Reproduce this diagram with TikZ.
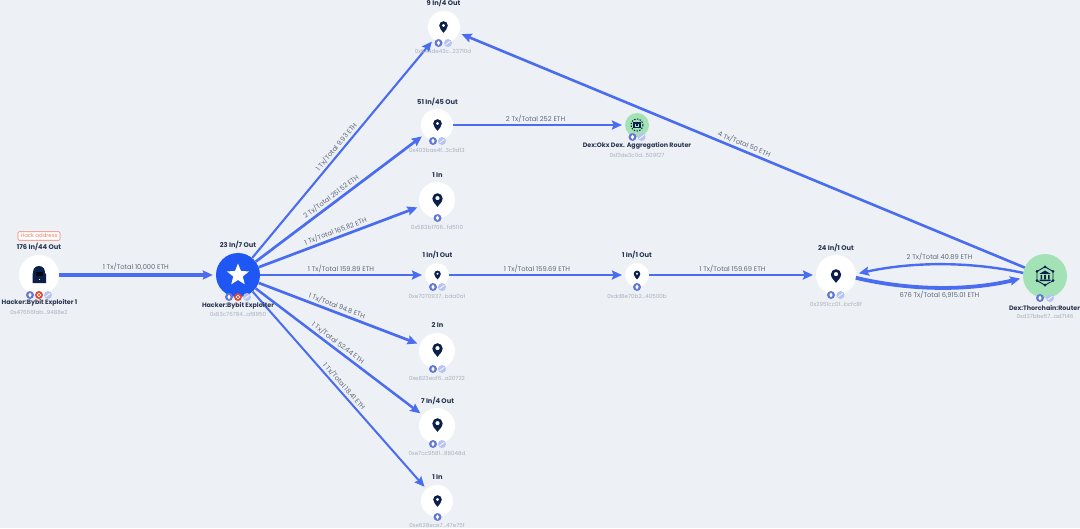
\documentclass[tikz,border=0pt]{standalone}
\usepackage{fontspec}
\setmainfont{Poppins}
\usetikzlibrary{arrows.meta,shapes.geometric}
\definecolor{bgc}{HTML}{EDF1F6}
\definecolor{edgec}{HTML}{4A6CF0}
\definecolor{navy}{HTML}{0B1F4A}
\definecolor{labc}{HTML}{2A3650}
\definecolor{addrc}{HTML}{A9B1BE}
\definecolor{edgetxt}{HTML}{5D6778}
\definecolor{greenc}{HTML}{A3E2B4}
\definecolor{mainc}{HTML}{1F57F5}
\definecolor{badge1}{HTML}{6277D6}
\definecolor{badge2}{HTML}{B7C3F2}
\definecolor{badge3}{HTML}{E2442E}
\definecolor{tagc}{HTML}{F0806A}
\tikzset{
  x=1pt,y=-1pt,
  wnode/.style={circle,fill=white,inner sep=0pt,outer sep=0pt},
  gnode/.style={circle,fill=greenc,inner sep=0pt,outer sep=0pt},
  toplab/.style={font=\fontsize{6.7}{7}\selectfont\bfseries,text=labc,inner sep=0pt},
  namelab/.style={font=\fontsize{6.35}{7}\selectfont\bfseries,text=labc,inner sep=0pt},
  addr/.style={font=\fontsize{5.6}{6}\selectfont,text=addrc,inner sep=0pt},
  elabbase/.style={font=\fontsize{6.7}{7}\selectfont,text=edgetxt},
  elab/.style={elabbase,inner sep=1.6pt,sloped,above},
  flow/.style={draw=edgec,line width=#1,-{Stealth[length=10pt,width=9pt,inset=1.5pt]},shorten >=3pt},
  flow/.default=2pt,
  ethb/.style={circle,fill=badge1,inner sep=0pt,minimum size=8pt,path picture={\fill[white] (path picture bounding box.center) ++(0,-2.5) -- ++(1.6,2.5) -- ++(-1.6,2.5) -- ++(-1.6,-2.5) -- cycle;}},
  webb/.style={circle,fill=badge2,inner sep=0pt,minimum size=8pt,path picture={\draw[white,line width=.7pt] (path picture bounding box.center) ++(-2.2,1.6) -- ++(4.4,-3.2);}},
  redb/.style={circle,fill=badge3,inner sep=0pt,minimum size=8pt,path picture={\draw[white,line width=.7pt] (path picture bounding box.center) circle (1.9);}},
  pinicon/.pic={
    \fill[navy,even odd rule] (0,8) .. controls (-2,5) and (-6,2.5) .. (-6,-2) .. controls (-6,-5.5) and (-3.2,-8) .. (0,-8) .. controls (3.2,-8) and (6,-5.5) .. (6,-2) .. controls (6,2.5) and (2,5) .. (0,8) -- cycle (2.6,-2.2) arc[start angle=0,end angle=360,radius=2.6];
  },
  hubicon/.pic={
    \draw[navy,line width=.9pt] (-8,-4.6) -- (0,-9.2) -- (8,-4.6) -- (8,4.6) -- (0,9.2) -- (-8,4.6) -- cycle;
    \foreach \a/\b in {-8/-4.6,0/-9.2,8/-4.6,8/4.6,0/9.2,-8/4.6} \fill[navy] (\a,\b) circle (1.5);
    \fill[greenc] (-5.5,-5) rectangle (5.5,6);
    \fill[navy] (0,-5.5) -- (5.5,-2.2) -- (-5.5,-2.2) -- cycle;
    \fill[navy] (-4.5,-1.2) rectangle (-3,3) (-.8,-1.2) rectangle (.8,3) (3,-1.2) rectangle (4.5,3) (-5.5,3.6) rectangle (5.5,5);
  },
  bugicon/.pic={
    \draw[navy,line width=1pt,dash pattern=on 1.4pt off 1.4pt] (0,0) circle (6);
    \fill[navy] (-4,-2.6) rectangle (4,3.2);
    \fill[greenc] (-2.4,-1) rectangle (2.4,1.6);
    \fill[navy] (-1.2,-.6) rectangle (1.2,1.2);
  }
}
\begin{document}
\begin{tikzpicture}
\fill[bgc] (0,0) rectangle (1080,528);
\useasboundingbox (0,0) rectangle (1080,528);

% nodes
\node[wnode,minimum size=40pt] (h1) at (39,275) {};
\node[circle,fill=mainc,inner sep=0pt,minimum size=44pt] (main) at (238,275) {};
\node[wnode,minimum size=32pt] (n1) at (444,27) {};
\node[wnode,minimum size=32pt] (n2) at (437,125) {};
\node[wnode,minimum size=36pt] (n3) at (437,200) {};
\node[wnode,minimum size=24pt] (n4) at (437,275) {};
\node[wnode,minimum size=36pt] (n5) at (437,351) {};
\node[wnode,minimum size=36pt] (n6) at (437,426) {};
\node[wnode,minimum size=32pt] (n7) at (437,501) {};
\node[wnode,minimum size=24pt] (n8) at (637,275) {};
\node[gnode,minimum size=24pt] (okx) at (637,125) {};
\node[wnode,minimum size=40pt] (n9) at (836,275) {};
\node[gnode,minimum size=44pt] (thor) at (1045,276) {};

% icons
\pic[scale=.72] at (443.5,27) {pinicon};
\pic[scale=.72] at (437.5,125) {pinicon};
\pic[scale=.85] at (437.5,200) {pinicon};
\pic[scale=.55] at (437.5,275) {pinicon};
\pic[scale=.85] at (437.5,350) {pinicon};
\pic[scale=.85] at (437.5,425) {pinicon};
\pic[scale=.72] at (437.5,501) {pinicon};
\pic[scale=.55] at (637,275) {pinicon};
\pic[scale=.85] at (836,276) {pinicon};
\pic[scale=1] at (1045,276) {hubicon};
\pic[scale=1] at (637,125) {bugicon};
\node[star,star points=5,star point ratio=2.3,fill=white,inner sep=0pt,minimum size=23pt] (star) at (238,275) {};
% hacker
\fill[navy] (39,266) .. controls (43,266) and (45,269) .. (45,273) -- (46,274) -- (46,283) -- (32.5,283) -- (32.5,274) -- (33,273) .. controls (33,269) and (35,266) .. (39,266) -- cycle;
\fill[black!80!navy] (35.5,272) rectangle (43,276);
\fill[white] (38.5,278.5) rectangle (39.8,279.8);

% edges
\draw[flow=3.6pt] (h1) -- node[elab,pos=.49,yshift=.5pt] {1 Tx/Total 10,000 ETH} (main);
\draw[flow=2.1pt] (main) -- node[elab,pos=.49] {1 Tx/Total 9.93 ETH} (n1);
\draw[flow=2.7pt] (main) -- node[elab,pos=.47] {2 Tx/Total 251.52 ETH} (n2);
\draw[flow=2.7pt] (main) -- node[elab,pos=.49] {1 Tx/Total 165.82 ETH} (n3);
\draw[flow=2.4pt] (main) -- node[elab,pos=.49] {1 Tx/Total 159.89 ETH} (n4);
\draw[flow=2.7pt] (main) -- node[elab,pos=.47] {1 Tx/Total 94.8 ETH} (n5);
\draw[flow=2.5pt] (main) -- node[elab,pos=.47] {1 Tx/Total 52.44 ETH} (n6);
\draw[flow=2pt] (main) -- node[elab,pos=.5] {1 Tx/Total 18.41 ETH} (n7);
\draw[flow=2.4pt] (n2) -- node[elab,pos=.48] {2 Tx/Total 252 ETH} (okx);
\draw[flow=2.4pt] (n4) -- node[elab,pos=.5] {1 Tx/Total 159.69 ETH} (n8);
\draw[flow=2.4pt] (n8) -- node[elab,pos=.5] {1 Tx/Total 159.69 ETH} (n9);
\draw[flow=2.6pt] (thor) -- node[elab,pos=.5] {4 Tx/Total 50 ETH} (n1.-22);
\draw[flow=2.4pt] (thor.172) .. controls +(-55,-12) and +(55,-12) .. node[elab,pos=.5,yshift=1pt] {2 Tx/Total 40.89 ETH} (n9.3);
\draw[flow=3.8pt] (n9.-8) .. controls +(55,13) and +(-55,13) .. node[elabbase,inner sep=1.2pt,below,pos=.5] {676 Tx/Total 6,915.01 ETH} (thor.185);

% badges
\foreach \x/\y/\s [count=\i] in {
 30/295/ethb,39/295/redb,48/295/webb,
 229/297/ethb,238/297/redb,247/297/webb,
 438.5/43/ethb,448/43/webb,
 433/141/ethb,442/141/webb,
 437.5/218/ethb,
 433/287/ethb,442/287/webb,
 433/369/ethb,442/369/webb,
 433/444/ethb,442/444/webb,
 437.5/517/ethb,
 637/287/ethb,
 632.5/137/ethb,641.5/137/webb,
 831/295/ethb,840.5/295/webb,
 1040/298/ethb,1050/298/webb}
 \node[\s] (b\i) at (\x,\y) {};

% tag
\node[draw=tagc,fill=white,rounded corners=1pt,line width=.6pt,inner sep=0pt,minimum width=42pt,minimum height=8.5pt,font=\fontsize{5.4}{5}\selectfont,text=tagc] (tag) at (39,236) {Hack address};

% top labels
\node[toplab] (t0) at (39,247) {176 In/44 Out};
\node[toplab] (t1) at (238,245) {23 In/7 Out};
\node[toplab] (t2) at (443.5,3) {9 In/4 Out};
\node[toplab] (t3) at (437.5,102) {51 In/45 Out};
\node[toplab] (t4) at (437.5,175) {1 In};
\node[toplab] (t5) at (437.5,255) {1 In/1 Out};
\node[toplab] (t6) at (437.5,325) {2 In};
\node[toplab] (t7) at (437.5,401) {7 In/4 Out};
\node[toplab] (t8) at (437.5,477) {1 In};
\node[toplab] (t9) at (637,255) {1 In/1 Out};
\node[toplab] (t10) at (836,248) {24 In/1 Out};

% names
\node[namelab] (m0) at (39.5,303) {Hacker:Bybit Exploiter 1};
\node[namelab] (m1) at (238,306) {Hacker:Bybit Exploiter};
\node[namelab] (m2) at (637,146) {Dex:Okx Dex. Aggregation Router};
\node[namelab] (m3) at (1044.5,308) {Dex:Thorchain:Router};

% addresses
\node[addr] (a0) at (39,312) {0x47666fab...9488e2};
\node[addr] (a1) at (238,314) {0x83c76784...af8950};
\node[addr] (a2) at (443,51) {0x644de43c...23710d};
\node[addr] (a3) at (437,150) {0x403bae4f...3c9d13};
\node[addr] (a4) at (437,227) {0x583b1706...fd5110};
\node[addr] (a5) at (437,296) {0xe7070937...bda0a1};
\node[addr] (a6) at (437,378) {0xe823eaf6...a20722};
\node[addr] (a7) at (437,453) {0xe7cc9581...88048d};
\node[addr] (a8) at (437,525) {0xe628ece7...47e75f};
\node[addr] (a9) at (637,296) {0xdd8e70b2...40500b};
\node[addr] (a10) at (637,155) {0xf3de3c0d...509f27};
\node[addr] (a11) at (836,304) {0x2951cc01...bcfc8f};
\node[addr] (a12) at (1045,316) {0xd37bbe57...ad7146};
\end{tikzpicture}
\end{document}
